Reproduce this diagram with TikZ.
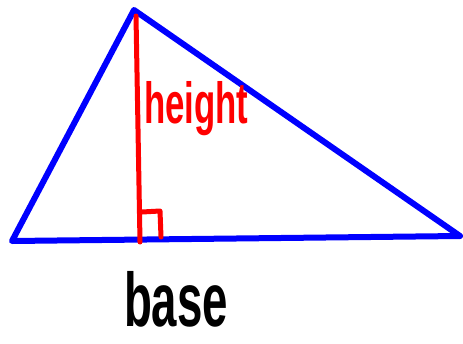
\documentclass[tikz,border=0pt]{standalone}
\usepackage{fontspec}
\setmainfont{Liberation Sans}
\begin{document}
\begin{tikzpicture}[x=1pt,y=-1pt,
  side/.style={draw={rgb,255:red,0;green,0;blue,255},line width=6pt,line join=round,line cap=round},
  alt/.style={draw=red,line width=5pt,line cap=round,line join=round},
  lbl/.style={inner sep=0pt,anchor=base west,xscale=0.6,font=\bfseries}]
\useasboundingbox (0,0) rectangle (463,343);
\coordinate (A) at (134,10);
\coordinate (L) at (12,241);
\coordinate (R) at (460,236);
\coordinate (F) at (140,242);
\coordinate (T) at (136,16);
\coordinate (M1) at (142,212);
\coordinate (M2) at (160,211);
\coordinate (M3) at (161,237);
\draw[side] (A) -- (L) -- (R) -- cycle;
\draw[alt] (T) -- (F);
\draw[alt] (M1) -- (M2) -- (M3);
\node[lbl,text=red] (h) at (144,123) {\fontsize{58}{58}\selectfont height};
\node[lbl] (b) at (124,326) {\fontsize{76}{76}\selectfont base};
\end{tikzpicture}
\end{document}
